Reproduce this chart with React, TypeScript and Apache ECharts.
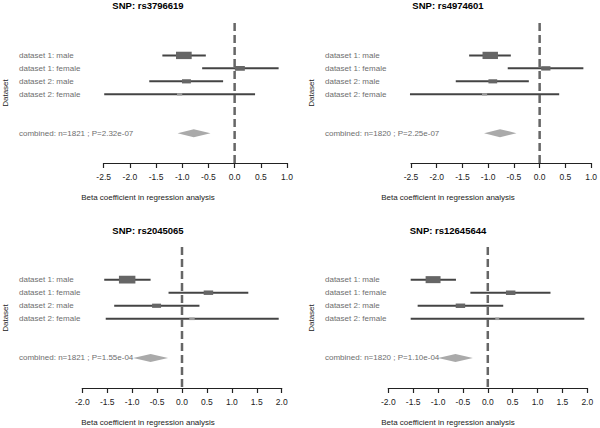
import React, { useEffect, useRef } from "react";
import * as echarts from "echarts";

const rowLabels = ["dataset 1: male", "dataset 1: female", "dataset 2: male", "dataset 2: female"];
const rowPositions = [1, 2, 3, 4];
const combinedRow = 7;

const snpNames = ["SNP: rs3796619", "SNP: rs4974601", "SNP: rs2045065", "SNP: rs12645644"];

// panel 1: rs3796619
const est1 = [-0.97, 0.1, -0.92, -1.05];
const lo1 = [-1.38, -0.62, -1.63, -2.49];
const hi1 = [-0.55, 0.84, -0.22, 0.39];
const weight1 = [0.3, 0.19, 0.17, 0.1];
const comb1 = { est: -0.78, lo: -1.09, hi: -0.46, label: "combined: n=1821 ; P=2.32e-07" };

// panel 2: rs4974601
const est2 = [-0.96, 0.12, -0.91, -1.07];
const lo2 = [-1.37, -0.62, -1.63, -2.52];
const hi2 = [-0.56, 0.85, -0.21, 0.38];
const weight2 = [0.3, 0.18, 0.17, 0.1];
const comb2 = { est: -0.77, lo: -1.08, hi: -0.45, label: "combined: n=1820 ; P=2.25e-07" };

// panel 3: rs2045065
const est3 = [-1.1, 0.53, -0.51, 0.2];
const lo3 = [-1.56, -0.27, -1.36, -1.53];
const hi3 = [-0.63, 1.33, 0.35, 1.94];
const weight3 = [0.33, 0.19, 0.18, 0.11];
const comb3 = { est: -0.63, lo: -0.98, hi: -0.28, label: "combined: n=1821 ; P=1.55e-04" };

// panel 4: rs12645644
const est4 = [-1.1, 0.46, -0.55, 0.19];
const lo4 = [-1.55, -0.35, -1.41, -1.55];
const hi4 = [-0.64, 1.26, 0.31, 1.94];
const weight4 = [0.3, 0.19, 0.19, 0.08];
const comb4 = { est: -0.65, lo: -1.0, hi: -0.3, label: "combined: n=1820 ; P=1.10e-04" };

const xRanges = [
  [-2.5, 1.0],
  [-2.5, 1.0],
  [-2.0, 2.0],
  [-2.0, 2.0],
];

const panels = [
  { est: est1, lo: lo1, hi: hi1, w: weight1, comb: comb1 },
  { est: est2, lo: lo2, hi: hi2, w: weight2, comb: comb2 },
  { est: est3, lo: lo3, hi: hi3, w: weight3, comb: comb3 },
  { est: est4, lo: lo4, hi: hi4, w: weight4, comb: comb4 },
];

// layout
const grids = [
  { left: 103.7, top: 23, width: 183.3, height: 140 },
  { left: 411, top: 23, width: 181.3, height: 140 },
  { left: 82.3, top: 247, width: 199.4, height: 141 },
  { left: 388.3, top: 247, width: 199, height: 141 },
];
const panelOrigins = [
  { x: 0, y: 0, labelX: 19 },
  { x: 300, y: 0, labelX: 325 },
  { x: 0, y: 225, labelX: 19 },
  { x: 300, y: 225, labelX: 325 },
];
const Y_MIN = -1.5;
const Y_MAX = 9.3;
const FONT = "Liberation Sans, Arial, Helvetica, sans-serif";

export default function App() {
  const ref = useRef<HTMLDivElement>(null);

  useEffect(() => {
    if (!ref.current) return;
    const chart = echarts.init(ref.current, undefined, { renderer: "svg" });

    const series: any[] = [];
    panels.forEach((p, i) => {
      const labelX = panelOrigins[i].labelX;
      const data: any[] = p.est.map((e, k) => [e, rowPositions[k], p.lo[k], p.hi[k], p.w[k], k]);
      series.push({
        type: "custom",
        xAxisIndex: i,
        yAxisIndex: i,
        data,
        z: 2,
        renderItem: (params: any, api: any) => {
          const e = api.value(0);
          const row = api.value(1);
          const lo = api.value(2);
          const hi = api.value(3);
          const w = api.value(4);
          const k = api.value(5);
          const pLo = api.coord([lo, row]);
          const pHi = api.coord([hi, row]);
          const pE = api.coord([e, row]);
          const wPx = api.size([w, 0])[0];
          const hPx = Math.max(2.5, wPx * 0.47);
          const small = hPx <= 3;
          return {
            type: "group",
            children: [
              {
                type: "text",
                x: labelX,
                y: pE[1],
                style: {
                  text: rowLabels[k],
                  font: `8px ${FONT}`,
                  fill: "#6e6e6e",
                  align: "left",
                  verticalAlign: "middle",
                },
              },
              {
                type: "line",
                shape: { x1: pLo[0], y1: pLo[1], x2: pHi[0], y2: pHi[1] },
                style: { stroke: "#444", lineWidth: 2 },
              },
              {
                type: "rect",
                shape: { x: pE[0] - wPx / 2, y: pE[1] - hPx / 2, width: wPx, height: hPx },
                style: { fill: small ? "#9a9a9a" : "#666" },
              },
            ],
          };
        },
      });
      series.push({
        type: "custom",
        xAxisIndex: i,
        yAxisIndex: i,
        data: [[p.comb.est, combinedRow, p.comb.lo, p.comb.hi]],
        z: 2,
        renderItem: (params: any, api: any) => {
          const e = api.value(0);
          const row = api.value(1);
          const lo = api.coord([api.value(2), row]);
          const hi = api.coord([api.value(3), row]);
          const c = api.coord([e, row]);
          const h = 4;
          return {
            type: "group",
            children: [
              {
                type: "polygon",
                shape: {
                  points: [
                    [lo[0], c[1]],
                    [c[0], c[1] - h],
                    [hi[0], c[1]],
                    [c[0], c[1] + h],
                  ],
                },
                style: { fill: "#aaaaaa" },
              },
              {
                type: "text",
                x: labelX,
                y: c[1],
                style: {
                  text: p.comb.label,
                  font: `8px ${FONT}`,
                  fill: "#6e6e6e",
                  align: "left",
                  verticalAlign: "middle",
                },
              },
            ],
          };
        },
      });
      series.push({
        type: "custom",
        xAxisIndex: i,
        yAxisIndex: i,
        data: [[0]],
        z: 3,
        renderItem: (params: any, api: any) => {
          const top = api.coord([0, Y_MIN]);
          const bot = api.coord([0, Y_MAX]);
          return {
            type: "line",
            shape: { x1: top[0], y1: top[1], x2: bot[0], y2: bot[1] },
            style: { stroke: "#666", lineWidth: 2.5, lineDash: [8, 4] },
          };
        },
      });
    });

    const graphics: any[] = [];
    panelOrigins.forEach((o, i) => {
      graphics.push({
        type: "text",
        x: o.x + 148,
        y: o.y + 5.5,
        style: {
          text: snpNames[i],
          font: `bold 9.5px ${FONT}`,
          fill: "#000",
          align: "center",
          verticalAlign: "middle",
        },
      });
      graphics.push({
        type: "text",
        x: o.x + 148,
        y: o.y + 197,
        style: {
          text: "Beta coefficient in regression analysis",
          font: `8px ${FONT}`,
          fill: "#222",
          align: "center",
          verticalAlign: "middle",
        },
      });
      graphics.push({
        type: "text",
        x: o.x + (i % 2 === 0 ? 5.5 : 11.7),
        y: o.y + 93,
        rotation: Math.PI / 2,
        style: {
          text: "Dataset",
          font: `8px ${FONT}`,
          fill: "#222",
          align: "center",
          verticalAlign: "middle",
        },
      });
    });

    chart.setOption({
      animation: false,
      backgroundColor: "#fff",
      grid: grids.map((g) => ({ ...g, containLabel: false })),
      xAxis: xRanges.map((r, i) => ({
        type: "value",
        gridIndex: i,
        min: r[0],
        max: r[1],
        interval: 0.5,
        axisLine: { show: true, onZero: false, lineStyle: { color: "#222", width: 1.2 } },
        axisTick: { show: true, length: 5, lineStyle: { color: "#222", width: 1.2 } },
        axisLabel: {
          margin: 9,
          fontSize: 8.5,
          color: "#222",
          fontFamily: FONT,
          formatter: (v: number) => v.toFixed(1),
        },
        splitLine: { show: false },
      })),
      yAxis: grids.map((g, i) => ({
        type: "value",
        gridIndex: i,
        min: Y_MIN,
        max: Y_MAX,
        inverse: true,
        show: false,
        splitLine: { show: false },
      })),
      series,
      graphic: graphics,
    });

    return () => chart.dispose();
  }, []);

  return (
    <div
      ref={ref}
      style={{ position: "absolute", left: 0, top: 0, width: 600, height: 428, background: "#fff" }}
    />
  );
}
